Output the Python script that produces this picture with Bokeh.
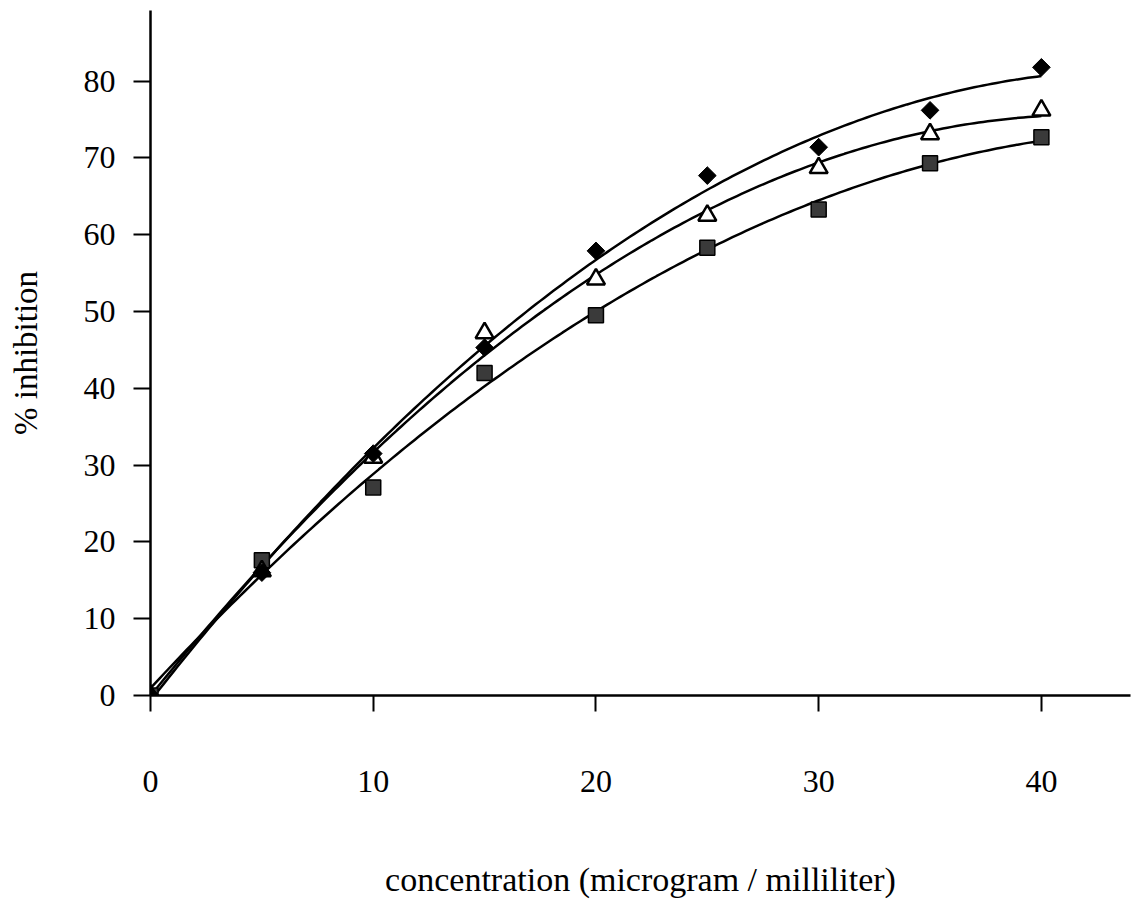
import numpy as np
from bokeh.plotting import figure
from bokeh.models import Range1d, FixedTicker, ColumnDataSource
from bokeh.embed import file_html
from bokeh.resources import INLINE

# ---- data ----
concentration = [0, 5, 10, 15, 20, 25, 30, 35, 40]
series_diamond = [0, 16.0, 31.5, 45.3, 57.9, 67.7, 71.4, 76.2, 81.8]
series_triangle = [0, 16.2, 31.0, 47.2, 54.2, 62.5, 68.7, 73.1, 76.2]
series_square = [0, 17.6, 27.1, 42.0, 49.5, 58.3, 63.3, 69.3, 72.7]
x_ticks = [0, 10, 20, 30, 40]
y_ticks = [0, 10, 20, 30, 40, 50, 60, 70, 80]

FONT = "Liberation Serif"

p = figure(width=1138, height=910, output_backend="svg", toolbar_location=None,
           x_range=Range1d(0, 44.0), y_range=Range1d(0, 89.2),
           min_border_left=150, min_border_right=8, min_border_top=10,
           min_border_bottom=215)
p.grid.visible = False
p.outline_line_color = None
p.background_fill_color = "white"
p.border_fill_color = "white"

# second-order polynomial trend lines fitted to each series (as in the original chart)
xs_fit = np.linspace(0, 40, 200)
for ys in (series_diamond, series_triangle, series_square):
    coef = np.polyfit(concentration, ys, 2)
    p.line(xs_fit, np.polyval(coef, xs_fit), line_color="black", line_width=2.5)

src = ColumnDataSource(dict(x=concentration, d=series_diamond,
                            t=series_triangle, s=series_square))
p.scatter("x", "s", source=src, marker="square", size=15,
          fill_color="#3a3a3a", line_color="black", line_width=1.5)
p.scatter("x", "t", source=src, marker="triangle", size=18,
          fill_color="white", line_color="black", line_width=2.5)
p.scatter("x", "d", source=src, marker="square", angle=np.pi / 4, size=12.5,
          fill_color="black", line_color="black", line_width=1)

# axes
for ax in (p.xaxis[0], p.yaxis[0]):
    ax.axis_line_width = 2.5
    ax.axis_line_color = "black"
    ax.major_tick_line_width = 2
    ax.major_tick_line_color = "black"
    ax.major_tick_in = 0
    ax.minor_tick_line_color = None
    ax.major_label_text_font = FONT
    ax.major_label_text_font_size = "32px"
    ax.major_label_text_color = "black"
    ax.axis_label_text_font = FONT
    ax.axis_label_text_font_style = "normal"
    ax.axis_label_text_color = "black"

p.xaxis[0].ticker = FixedTicker(ticks=x_ticks)
p.yaxis[0].ticker = FixedTicker(ticks=y_ticks)
p.xaxis[0].major_tick_out = 16
p.xaxis[0].major_label_standoff = 59
p.xaxis[0].axis_label = "concentration (microgram / milliliter)"
p.xaxis[0].axis_label_text_font_size = "34px"
p.xaxis[0].axis_label_standoff = 66
p.yaxis[0].major_tick_out = 17
p.yaxis[0].major_label_standoff = 18
p.yaxis[0].axis_label = "% inhibition"
p.yaxis[0].axis_label_text_font_size = "33px"
p.yaxis[0].axis_label_standoff = 37

open("out.html", "w").write(file_html(p, INLINE))
